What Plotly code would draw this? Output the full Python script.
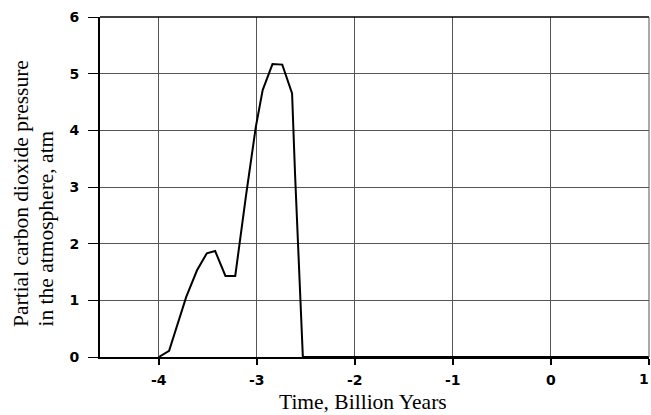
import plotly.graph_objects as go

time_gyr = [-4.0, -3.895, -3.72, -3.61, -3.51, -3.425, -3.32, -3.22, -3.11, -3.01, -2.94, -2.84, -2.74, -2.64, -2.61, -2.53, 1.0]
pco2_atm = [0.0, 0.11, 1.06, 1.53, 1.83, 1.87, 1.43, 1.43, 2.85, 4.06, 4.71, 5.17, 5.16, 4.65, 3.24, 0.0, 0.0]

x_ticks = [-4, -3, -2, -1, 0, 1]
x_labels = ["-4", "-3", "-2", "-1", "0", "1"]
y_ticks = [0, 1, 2, 3, 4, 5, 6]

PL, PR, PT, PB = 100, 649, 17, 357  # plot-area pixel edges
W, H = 651, 415


def px_x(p):
    return (p - PL) / (PR - PL)


def px_y(p):
    return (PB - p) / (PB - PT)


tick_font = dict(family="DejaVu Sans", size=14, color="black", weight="bold")
title_font = dict(family="Liberation Serif", size=21.5, color="black")

fig = go.Figure()
fig.add_trace(go.Scatter(x=time_gyr, y=pco2_atm, mode="lines",
                         line=dict(color="black", width=2), showlegend=False))

# last x label sits at the right edge: draw it as an annotation kept inside the page
edge_label = x_labels[-1]
axis_labels = x_labels[:-1] + [""]

fig.update_layout(
    width=W, height=H,
    margin=dict(l=PL, r=W - PR, t=PT, b=H - PB, autoexpand=False),
    paper_bgcolor="white", plot_bgcolor="white",
    xaxis=dict(range=[-4.6, 1.002], tickvals=x_ticks, ticktext=axis_labels,
               showgrid=True, gridcolor="#555", gridwidth=1,
               showline=True, linecolor="black", linewidth=2, mirror=False,
               ticks="outside", ticklen=6, tickwidth=2, tickcolor="black",
               tickfont=tick_font, ticklabelstandoff=3,
               automargin=False, zeroline=False),
    yaxis=dict(range=[0, 6], tickvals=y_ticks, ticktext=[str(v) for v in y_ticks],
               showgrid=True, gridcolor="#555", gridwidth=1,
               showline=True, linecolor="black", linewidth=2,
               ticks="outside", ticklen=10, tickwidth=1, tickcolor="black",
               tickfont=tick_font, ticklabelstandoff=6,
               automargin=False, zeroline=False),
    shapes=[
        dict(type="line", xref="paper", yref="paper", x0=0, x1=1, y0=1, y1=1,
             line=dict(color="black", width=1.5)),
        dict(type="line", xref="paper", yref="paper", x0=1, x1=1, y0=0, y1=1,
             line=dict(color="#555", width=1)),
    ],
    annotations=[
        dict(text=edge_label, xref="x", yref="paper", x=x_ticks[-1], y=px_y(379),
             xanchor="right", yanchor="middle", xshift=1, showarrow=False,
             borderpad=0, font=tick_font),
        dict(text="Partial carbon dioxide pressure",
             xref="paper", yref="paper", x=px_x(20.5), y=px_y(328),
             xanchor="center", yanchor="bottom", textangle=-90, showarrow=False,
             borderpad=0, font=title_font),
        dict(text="in the atmosphere, atm",
             xref="paper", yref="paper", x=px_x(45.5), y=px_y(328),
             xanchor="center", yanchor="bottom", textangle=-90, showarrow=False,
             borderpad=0, font=title_font),
        dict(text="Time, Billion Years",
             xref="paper", yref="paper", x=px_x(362.5), y=px_y(401.5),
             xanchor="center", yanchor="middle", showarrow=False,
             borderpad=0, font=title_font),
    ],
)

fig.write_html("out.html")
